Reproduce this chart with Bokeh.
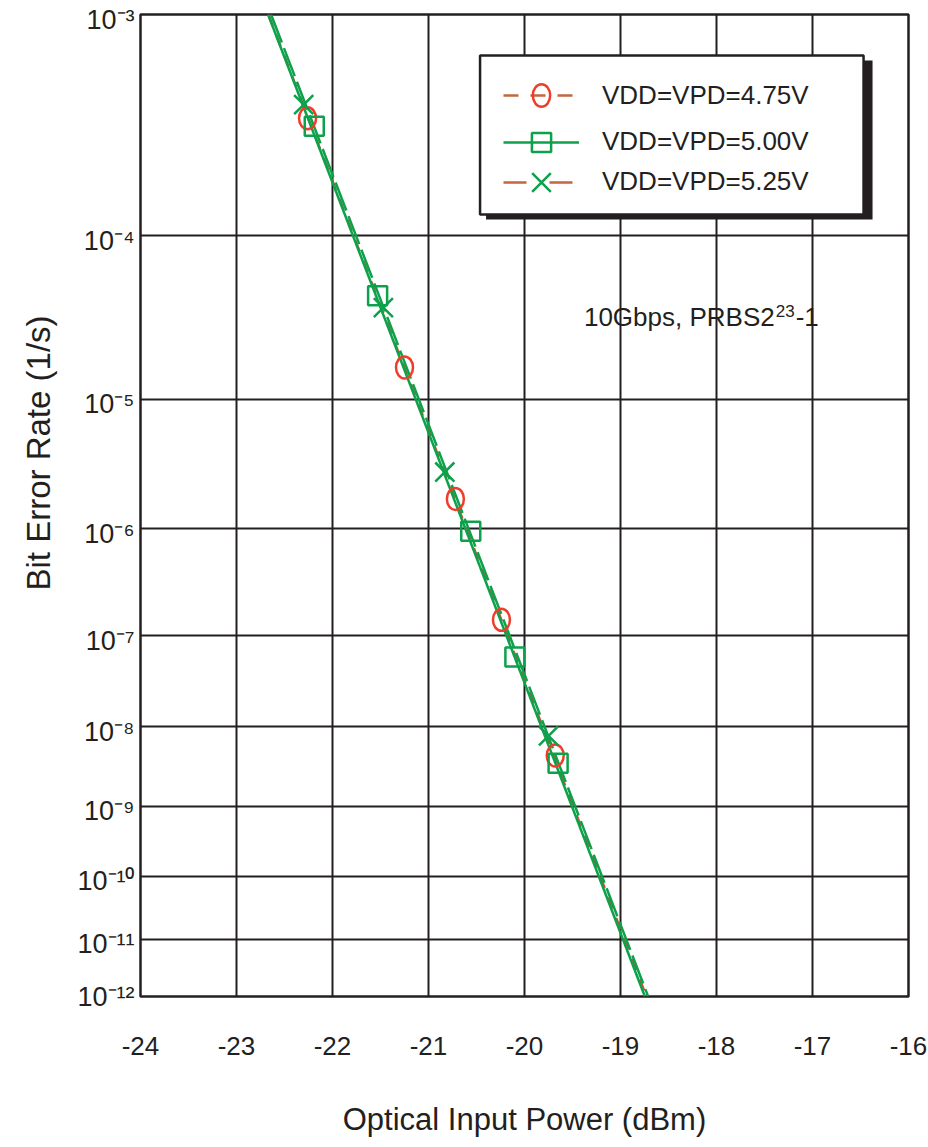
import math
from bokeh.plotting import figure
from bokeh.models import (Range1d, FixedTicker, Label, Legend, LegendItem,
                          BoxAnnotation, Title)
from bokeh.embed import file_html
from bokeh.resources import INLINE

# ---------------- data ----------------
x_ticks = [-24, -23, -22, -21, -20, -19, -18, -17, -16]
ber_exponents = [3, 4, 5, 6, 7, 8, 9, 10, 11, 12]
series_labels = ["VDD=VPD=4.75V", "VDD=VPD=5.00V", "VDD=VPD=5.25V"]

pwr_475 = [-22.26, -21.25, -20.72, -20.24, -19.68]
ber_475 = [3.75e-4, 1.64e-5, 1.77e-6, 1.44e-7, 4.5e-9]
pwr_500 = [-22.19, -21.53, -20.56, -20.10, -19.65]
ber_500 = [3.45e-4, 4.6e-5, 9.5e-7, 6.0e-8, 3.6e-9]
pwr_525 = [-22.30, -21.47, -20.83, -19.75]
ber_525 = [4.3e-4, 3.9e-5, 2.9e-6, 7.8e-9]

fit_ber = [1e-3, 1e-12]
fit_pwr_475 = [-22.668, -18.73]
fit_pwr_500 = [-22.671, -18.746]
fit_pwr_525 = [-22.64, -18.712]

# ---------------- BER (Q) scale ----------------
def q_of_ber(p):
    lo, hi = 0.0, 12.0
    for _ in range(200):
        mid = 0.5 * (lo + hi)
        if 0.5 * math.erfc(mid / math.sqrt(2.0)) > p:
            lo = mid
        else:
            hi = mid
    return 0.5 * (lo + hi)

def ty(ber):
    return -math.log10(q_of_ber(ber))

def tys(bers):
    return [ty(b) for b in bers]

X0, X1 = -24.0, -16.0
Y_TOP = ty(10.0 ** -ber_exponents[0])
Y_BOT = ty(10.0 ** -ber_exponents[-1])

# geometry (picture pixels)
FL, FR, FT, FB = 139, 908, 14, 996
W, H = 928, 1147

def dx(px):
    return X0 + (px - FL) / (FR - FL) * (X1 - X0)

def dy(py):
    return Y_TOP + (py - FT) / (FB - FT) * (Y_BOT - Y_TOP)

PX_Y = (Y_TOP - Y_BOT) / (FB - FT)   # data units per pixel (vertical)

TXT = "#231f20"
RED = "#ee3e2b"
RED_LINE = "#e04a2e"
BROWN = "#c4663f"
GREEN = "#0da14b"
FONT = "Liberation Sans"
SUP = {"0": "\u2070", "1": "\u00b9", "2": "\u00b2", "3": "\u00b3", "4": "\u2074",
       "5": "\u2075", "6": "\u2076", "7": "\u2077", "8": "\u2078", "9": "\u2079",
       "-": "\u207b"}

def sup(s):
    return "".join(SUP[c] for c in s)

p = figure(width=W, height=H, output_backend="svg", toolbar_location=None,
           x_range=Range1d(X0, X1), y_range=Range1d(Y_BOT, Y_TOP),
           min_border_left=FL, min_border_right=W - FR,
           min_border_top=FT, min_border_bottom=H - FB)
p.background_fill_color = "white"
p.border_fill_color = "white"
p.outline_line_color = TXT
p.outline_line_width = 2.5

# x axis
p.xaxis.ticker = FixedTicker(ticks=x_ticks)
p.xaxis.major_label_overrides = {t: "%d" % t for t in x_ticks}
p.xaxis.axis_line_color = None
p.xaxis.major_tick_in = 0
p.xaxis.major_tick_out = 0
p.xaxis.minor_tick_line_color = None
p.xaxis.major_label_text_font = FONT
p.xaxis.major_label_text_font_size = "26px"
p.xaxis.major_label_text_color = TXT
p.xaxis.major_label_standoff = 40
p.xaxis.axis_label = "Optical Input Power (dBm)"
p.xaxis.axis_label_text_font = FONT
p.xaxis.axis_label_text_font_size = "31px"
p.xaxis.axis_label_text_font_style = "normal"
p.xaxis.axis_label_text_color = TXT
p.xaxis.axis_label_standoff = 44

# y axis: 10^-n labels (sitting slightly below each grid line, as in the original)
y_grid_vals = [ty(10.0 ** -e) for e in ber_exponents]
y_lab_vals = [max(v - 5 * PX_Y, Y_BOT) for v in y_grid_vals]
p.yaxis.ticker = FixedTicker(ticks=y_lab_vals)
p.yaxis.major_label_overrides = {v: "10" + sup("-%d" % e)
                                 for v, e in zip(y_lab_vals, ber_exponents)}
p.yaxis.axis_line_color = None
p.yaxis.major_tick_in = 0
p.yaxis.major_tick_out = 0
p.yaxis.minor_tick_line_color = None
p.yaxis.major_label_text_font = FONT
p.yaxis.major_label_text_font_size = "27px"
p.yaxis.major_label_text_color = TXT
p.yaxis.major_label_standoff = 6

p.add_layout(Title(text="Bit Error Rate (1/s)", align="left", offset=FB - 590,
                   text_font=FONT, text_font_size="33px", text_font_style="normal",
                   text_color=TXT, standoff=35), "left")

p.xgrid.ticker = FixedTicker(ticks=x_ticks)
p.ygrid.ticker = FixedTicker(ticks=y_grid_vals)
for g in (p.xgrid, p.ygrid):
    g.grid_line_color = TXT
    g.grid_line_width = 2
    g.grid_line_alpha = 1

# fit lines
l475 = p.line(fit_pwr_475, tys(fit_ber), line_color=RED_LINE, line_width=2.5, line_dash="12 10")
l500 = p.line(fit_pwr_500, tys(fit_ber), line_color=GREEN, line_width=2.5)
l525 = p.line(fit_pwr_525, tys(fit_ber), line_color=GREEN, line_width=2.5, line_dash="30 6")

# measured points
m475 = p.ellipse(pwr_475, tys(ber_475), width=17, height=22, width_units="screen",
                 height_units="screen", fill_color=None, line_color=RED, line_width=2.5)
m500 = p.scatter(pwr_500, tys(ber_500), marker="square", size=19, fill_color=None,
                 line_color=GREEN, line_width=2.5)
m525 = p.scatter(pwr_525, tys(ber_525), marker="x", size=27, line_color=GREEN, line_width=2.5)

# legend sample lines (nothing drawn in the plot)
nan = float("nan")
s475 = p.line([nan], [nan], line_color=BROWN, line_width=2.5, line_dash="15 12")
s525 = p.line([nan], [nan], line_color=BROWN, line_width=2.5, line_dash="23 23")

# legend box with shadow
p.add_layout(BoxAnnotation(left=dx(485), right=dx(872), top=dy(60), bottom=dy(219),
                           fill_color=TXT, fill_alpha=1, line_alpha=0))
p.add_layout(BoxAnnotation(left=dx(479), right=dx(863), top=dy(55), bottom=dy(214),
                           fill_color="white", fill_alpha=1, line_color=TXT,
                           line_width=2.5, line_alpha=1))

rows = [
    (LegendItem(label=series_labels[0], renderers=[s475, m475], index=0), 28, 96.7),
    (LegendItem(label=series_labels[1], renderers=[l500, m500], index=0), 48, 141.7),
    (LegendItem(label=series_labels[2], renderers=[s525, m525], index=0), 66, 181.7),
]
for item, gh, cy in rows:
    lg = Legend(items=[item], location=(502 - FL, FB - (cy + gh / 2.0)),
                padding=0, margin=0, spacing=0, glyph_width=76, glyph_height=gh,
                label_height=gh, label_standoff=23, label_text_font=FONT,
                label_text_font_size="26px", label_text_color=TXT,
                border_line_color=None, background_fill_alpha=0)
    p.add_layout(lg)

# annotation 10Gbps, PRBS2^23-1
p.add_layout(Label(x=dx(583), y=dy(316), text="10Gbps, PRBS2", text_font=FONT,
                   text_font_size="26px", text_color=TXT, text_align="left",
                   text_baseline="middle"))
p.add_layout(Label(x=dx(775), y=dy(310), text="23", text_font=FONT,
                   text_font_size="17px", text_color=TXT, text_align="left",
                   text_baseline="middle"))
p.add_layout(Label(x=dx(795), y=dy(316), text="-1", text_font=FONT,
                   text_font_size="26px", text_color=TXT, text_align="left",
                   text_baseline="middle"))

open("out.html", "w").write(file_html(p, INLINE))
